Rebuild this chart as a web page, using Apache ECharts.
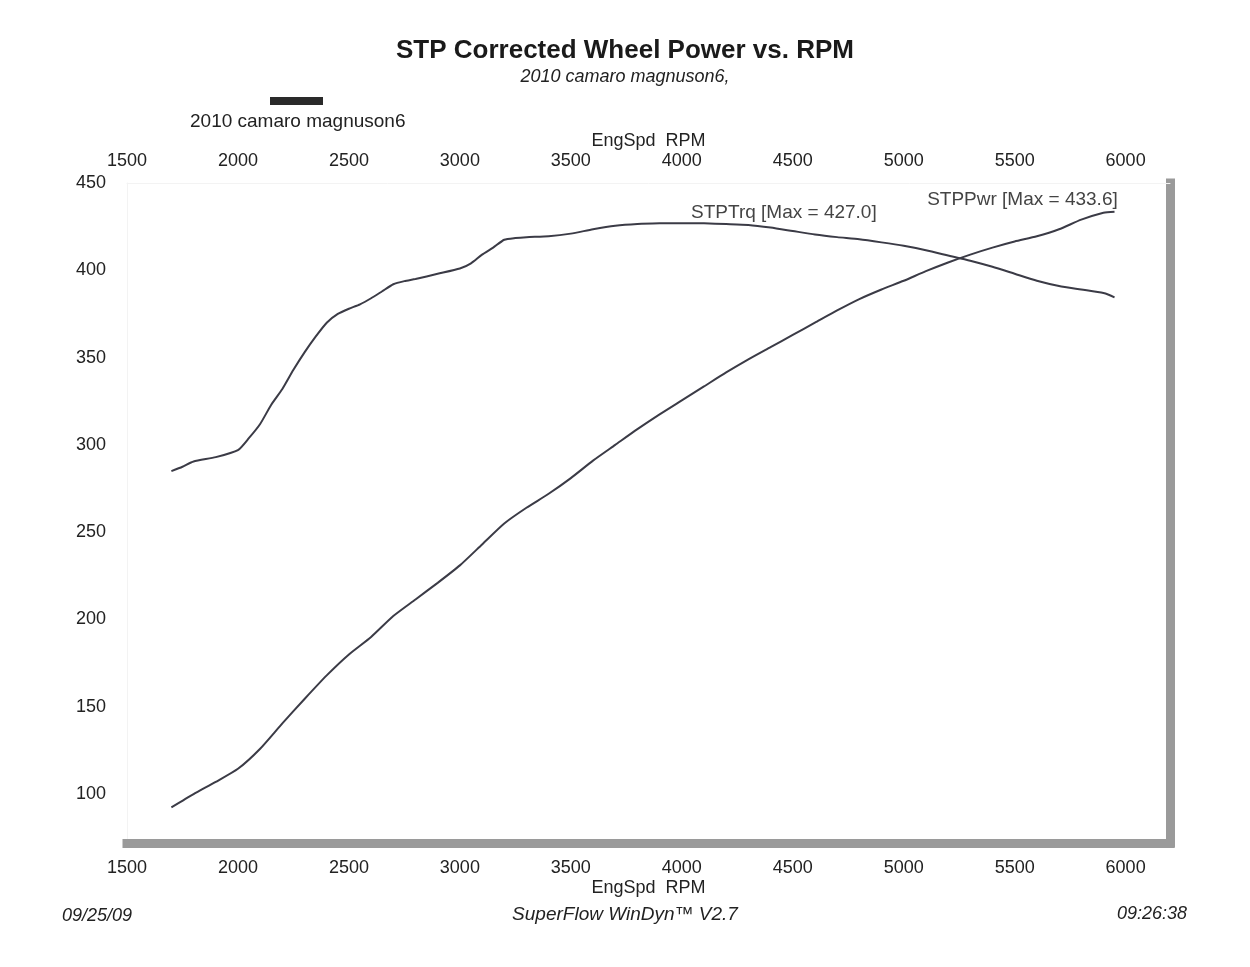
<!DOCTYPE html>
<html>
<head>
<meta charset="utf-8">
<script src="https://cdn.jsdelivr.net/npm/echarts@6/dist/echarts.min.js"></script>
<style>html,body{margin:0;padding:0;background:#fff;}#chart{width:1250px;height:967px;}</style>
</head>
<body>
<div id="chart"></div>
<script>
// ---- Data ----
const rpmTicks = [1500, 2000, 2500, 3000, 3500, 4000, 4500, 5000, 5500, 6000];
const valTicks = [100, 150, 200, 250, 300, 350, 400, 450];

const torqueRpm = [1700,1750,1800,1900,2000,2050,2100,2150,2200,2250,2300,2350,2400,2450,2500,2550,2600,2650,2700,2750,2800,2900,3000,3050,3100,3150,3200,3250,3300,3400,3500,3600,3700,3800,3900,4000,4100,4200,4300,4400,4500,4600,4700,4800,4900,5000,5100,5200,5300,5400,5500,5600,5700,5800,5900,5950];
const torqueVal = [285,287.5,290.5,293,297,304,312,323,332,343,353,362,370,375,378,380.5,384,388,392,393.8,395,398,401,404,409,413,417.5,418.5,419,419.5,421,423.5,425.5,426.5,426.9,427.0,426.9,426.5,426,424.5,422.5,420.5,419,417.8,416,414,411.5,408.5,405.5,402,398,394,391,389,387,384.5];

const powerRpm = [1700,1800,1900,2000,2100,2200,2300,2400,2500,2600,2700,2800,2900,3000,3100,3200,3300,3400,3500,3600,3700,3800,3900,4000,4100,4200,4300,4400,4500,4600,4700,4800,4900,5000,5100,5200,5300,5400,5500,5600,5700,5800,5900,5950];
const powerVal = [92.4,100,107,114.5,126,140.5,154.5,168,180,190,202,211.5,221,231,243,255,264,272,281,291,300,309,317.5,325.5,333.5,341.5,349,356,363,370,377,383.5,389,394,399.5,404.5,409,413,416.5,419.5,423.5,429,433,433.6];

const torqueLabel = 'STPTrq [Max = 427.0]';
const powerLabel = 'STPPwr [Max = 433.6]';
const runName = '2010 camaro magnuson6';

const pair = (xs, ys) => xs.map((x, i) => [x, ys[i]]);

const FONT = 'Liberation Sans, Arial, sans-serif';
const TXT = '#222';
const LINE = '#3b3b46';

const chart = echarts.init(document.getElementById('chart'), null, {renderer: 'canvas'});
const xCommon = {
  type: 'value', min: 1500, max: 6200,
  splitLine: {show: false},
  axisTick: {show: false},
  name: 'EngSpd  RPM', nameLocation: 'middle', nameMoveOverlap: false,
  nameTextStyle: {fontFamily: FONT, fontSize: 18, color: TXT},
  axisLabel: {customValues: rpmTicks, formatter: v => String(v), fontFamily: FONT, fontSize: 18, color: TXT}
};
chart.setOption({
  backgroundColor: '#fff',
  animation: false,
  title: [
    {text: 'STP Corrected Wheel Power vs. RPM', left: 'center', top: 33,
     textStyle: {fontFamily: FONT, fontSize: 26, fontWeight: 'bold', color: '#1a1a1a'}},
    {text: '2010 camaro magnuson6,', left: 'center', top: 63,
     textStyle: {fontFamily: FONT, fontSize: 18, fontStyle: 'italic', fontWeight: 'normal', color: TXT}},
    {text: '09/25/09', left: 57, top: 902,
     textStyle: {fontFamily: FONT, fontSize: 18, fontStyle: 'italic', fontWeight: 'normal', color: TXT}},
    {text: 'SuperFlow WinDyn\u2122 V2.7', left: 'center', top: 900,
     textStyle: {fontFamily: FONT, fontSize: 19, fontStyle: 'italic', fontWeight: 'normal', color: TXT}},
    {text: '09:26:38', left: 1112, top: 900,
     textStyle: {fontFamily: FONT, fontSize: 18, fontStyle: 'italic', fontWeight: 'normal', color: TXT}}
  ],
  graphic: [
    {type: 'rect', left: 270, top: 97, shape: {width: 53, height: 8}, style: {fill: '#2a2a2a'}},
    {type: 'text', left: 190, top: 112, style: {text: runName, font: '19px ' + FONT, fill: TXT}}
  ],
  grid: {left: 127, right: 80, top: 183, bottom: 124},
  xAxis: [
    Object.assign({}, xCommon, {position: 'bottom', nameGap: 36,
      axisLabel: Object.assign({}, xCommon.axisLabel, {margin: 16}),
      axisLine: {show: true, onZero: false, lineStyle: {color: '#9a9a9a', width: 9, cap: 'square'}}}),
    Object.assign({}, xCommon, {position: 'top', nameGap: 33,
      axisLabel: Object.assign({}, xCommon.axisLabel, {margin: 13}),
      axisLine: {show: true, onZero: false, lineStyle: {color: '#f3f3f3', width: 1}}})
  ],
  yAxis: [
    {type: 'value', min: 72, max: 450, position: 'left',
     splitLine: {show: false}, axisTick: {show: false},
     axisLine: {show: true, onZero: false, lineStyle: {color: '#f3f3f3', width: 1}},
     axisLabel: {customValues: valTicks, fontFamily: FONT, fontSize: 18, color: TXT, margin: 21}},
    {type: 'value', min: 72, max: 450, position: 'right',
     splitLine: {show: false}, axisTick: {show: false}, axisLabel: {show: false},
     axisLine: {show: true, onZero: false, lineStyle: {color: '#9a9a9a', width: 9, cap: 'square'}}}
  ],
  series: [
    {name: 'STPTrq', type: 'line', data: pair(torqueRpm, torqueVal), showSymbol: false, smooth: 0.2,
     lineStyle: {color: LINE, width: 2}, itemStyle: {color: LINE},
     markPoint: {symbolSize: 0, silent: true,
       label: {show: true, formatter: torqueLabel, fontFamily: FONT, fontSize: 19, color: '#444', position: 'inside'},
       data: [{coord: [4460, 433]}]}},
    {name: 'STPPwr', type: 'line', data: pair(powerRpm, powerVal), showSymbol: false, smooth: 0.2,
     lineStyle: {color: LINE, width: 2}, itemStyle: {color: LINE},
     markPoint: {symbolSize: 0, silent: true,
       label: {show: true, formatter: powerLabel, fontFamily: FONT, fontSize: 19, color: '#444', position: 'inside'},
       data: [{coord: [5535, 440.5]}]}}
  ]
});
</script>
</body>
</html>
